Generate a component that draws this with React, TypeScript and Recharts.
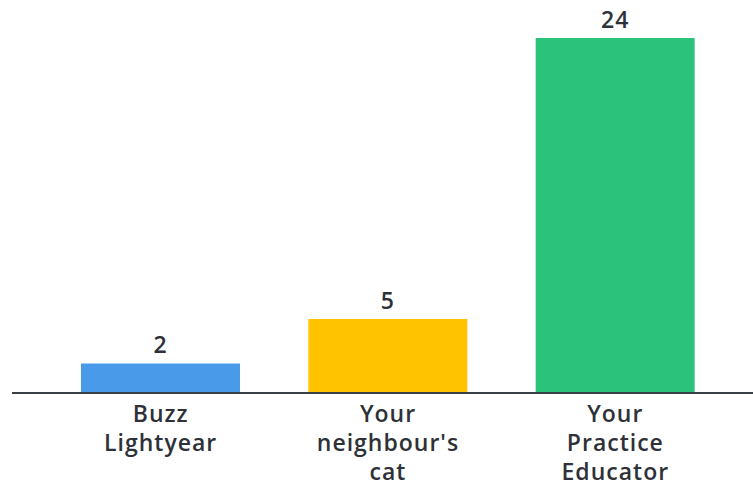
import React from "react";
import { BarChart, Bar, XAxis, YAxis, Cell, LabelList } from "recharts";

const categories = ["Buzz Lightyear", "Your neighbour's cat", "Your Practice Educator"];
const tickLines = [["Buzz", "Lightyear"], ["Your", "neighbour's", "cat"], ["Your", "Practice", "Educator"]];
const values = [2, 5, 24];
const colors = ["#4A9AEA", "#FFC300", "#2BC37C"];

const data = categories.map((name, i) => ({ name, value: values[i], idx: i }));

const FONT = "'Open Sans', sans-serif";
const TEXT = "#2E3138";

const Tick = (props: any) => {
  const { x, y, index } = props;
  const lines = tickLines[index] || [];
  return (
    <text x={x} y={y} textAnchor="middle" fill={TEXT} fontFamily={FONT} fontSize={23} fontWeight={600} letterSpacing={1}>
      {lines.map((l, i) => (
        <tspan key={i} x={x} y={y + 21 + i * 29}>{l}</tspan>
      ))}
    </text>
  );
};

const ValueLabel = (props: any) => {
  const { x, y, width, value } = props;
  return (
    <text x={x + width / 2} y={y - 10} textAnchor="middle" fill={TEXT} fontFamily={FONT} fontSize={23} fontWeight={600} letterSpacing={1}>
      {value}
    </text>
  );
};

export default function App() {
  return (
    <div style={{ position: "absolute", left: 0, top: 0, width: 753, height: 490, background: "#fff" }}>
      <BarChart width={753} height={490} data={data} margin={{ top: 38, right: 0, left: 12, bottom: 0 }}>
        <XAxis
          dataKey="name"
          height={97}
          padding={{ left: 35, right: 24 }}
          axisLine={{ stroke: "#3A3E45", strokeWidth: 2 }}
          tickLine={false}
          interval={0}
          tick={<Tick />}
        />
        <YAxis hide domain={[0, 24]} />
        <Bar dataKey="value" barSize={159} isAnimationActive={false}>
          {data.map((d, i) => (
            <Cell key={i} fill={colors[i]} />
          ))}
          <LabelList dataKey="value" content={<ValueLabel />} />
        </Bar>
      </BarChart>
    </div>
  );
}
